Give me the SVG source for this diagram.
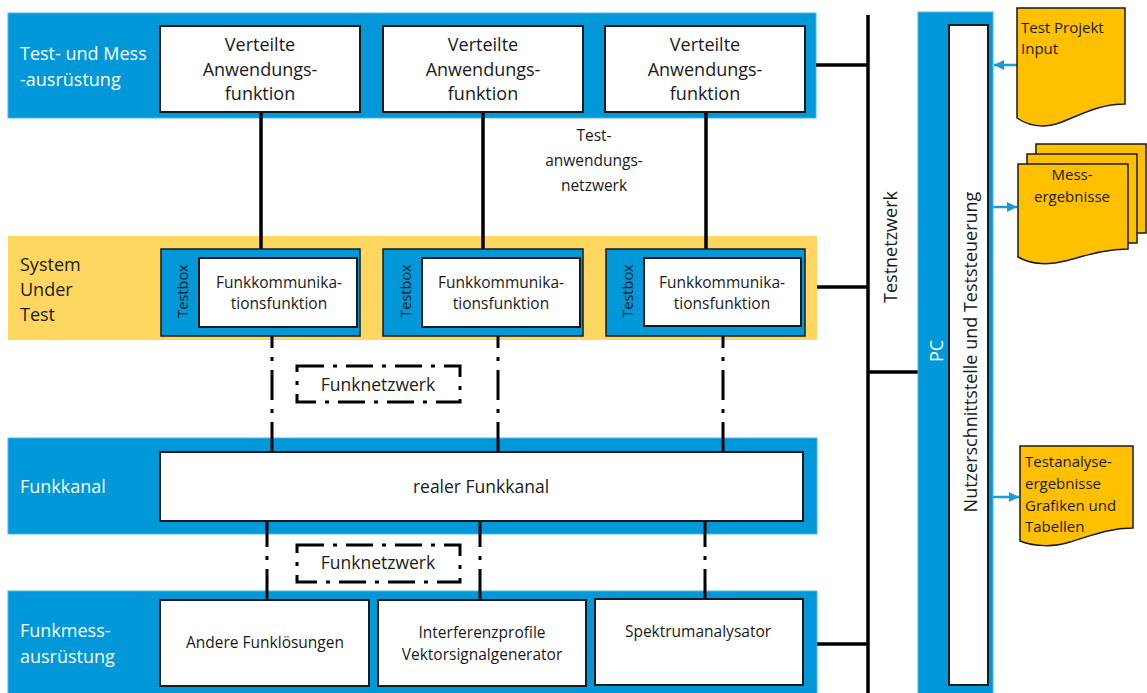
<svg xmlns="http://www.w3.org/2000/svg" width="1147" height="693" viewBox="0 0 1147 693">
  <defs>
    <style>
      text { font-family: "Open Sans", "Liberation Sans", sans-serif; fill: #1a1a1a; }
      .band { fill: #0098D8; stroke: #4DB6E6; stroke-width: 1; }
      .sut { fill: #FFD760; }
      .box { fill: #ffffff; stroke: #1a1a1a; stroke-width: 2; }
      .tbox { fill: #0098D8; stroke: #1a1a1a; stroke-width: 1.5; }
      .doc { fill: #FFC000; stroke: #1a1a1a; stroke-width: 1.5; }
      .lbl { fill: #ffffff; font-size: 18px; }
      .dark { font-size: 18px; }
      .t18 { font-size: 18px; text-anchor: middle; }
      .t16 { font-size: 15.5px; text-anchor: middle; }
      .t15 { font-size: 15px; }
      .solid { stroke: #000; stroke-width: 3.5; fill: none; }
      .dashdot { stroke: #000; stroke-width: 3; fill: none; stroke-dasharray: 30 9 4 9; }
      .frame { stroke: #000; stroke-width: 3; fill: none; stroke-dasharray: 27 9 4 9; }
      .arrow { stroke: #1B9AD8; stroke-width: 2.5; fill: none; marker-end: url(#ah); }
    </style>
    <marker id="ah" markerUnits="userSpaceOnUse" markerWidth="12" markerHeight="12" refX="10" refY="6" orient="auto">
      <path d="M0,1 L10,6 L0,11 Z" fill="#1B9AD8"/>
    </marker>
  </defs>

  <!-- layer bands -->
  <rect class="band" x="8" y="13" width="808" height="105"/>
  <rect class="sut" x="8" y="236" width="809" height="104"/>
  <rect class="band" x="8" y="438" width="809" height="96"/>
  <rect class="band" x="8" y="591" width="809" height="103"/>

  <!-- layer labels -->
  <g id="label-test-mess">
    <text class="lbl" x="20" y="60">Test- und Mess</text>
    <text class="lbl" x="20" y="86">-ausrüstung</text>
  </g>
  <g id="label-sut">
    <text class="dark" x="20" y="271">System</text>
    <text class="dark" x="20" y="296">Under</text>
    <text class="dark" x="20" y="321">Test</text>
  </g>
  <g id="label-funkkanal">
    <text class="lbl" x="20" y="493">Funkkanal</text>
  </g>
  <g id="label-funkmess">
    <text class="lbl" x="20" y="637">Funkmess-</text>
    <text class="lbl" x="20" y="663">ausrüstung</text>
  </g>

  <!-- connectors -->
  <g id="connectors">
    <!-- application network -->
    <path class="solid" d="M261,112 V249 M483,112 V249 M706,112 V249"/>
    <!-- radio links -->
    <path class="dashdot" stroke-dashoffset="9" d="M272,327 V452 M498,327 V452 M723,327 V452"/>
    <path class="dashdot" stroke-dashoffset="4" d="M267,521 V600 M480,521 V600 M705,521 V600"/>
    <!-- test network bus -->
    <path class="solid" d="M868,15 V693 M816,65 H868 M817,287 H868 M868,372 H918 M817,644 H868"/>
    <!-- PC data flow -->
    <path class="arrow" d="M1017,65 H994"/>
    <path class="arrow" d="M993,207 H1017"/>
    <path class="arrow" d="M993,497 H1019"/>
  </g>

  <!-- distributed application functions -->
  <g id="app-1">
    <rect class="box" x="160" y="26" width="200" height="86"/>
    <text class="t18" x="260" y="51">Verteilte</text>
    <text class="t18" x="260" y="76">Anwendungs-</text>
    <text class="t18" x="260" y="100">funktion</text>
  </g>
  <g id="app-2">
    <rect class="box" x="383" y="26" width="200" height="86"/>
    <text class="t18" x="483" y="51">Verteilte</text>
    <text class="t18" x="483" y="76">Anwendungs-</text>
    <text class="t18" x="483" y="100">funktion</text>
  </g>
  <g id="app-3">
    <rect class="box" x="605" y="26" width="200" height="86"/>
    <text class="t18" x="705" y="51">Verteilte</text>
    <text class="t18" x="705" y="76">Anwendungs-</text>
    <text class="t18" x="705" y="100">funktion</text>
  </g>

  <g id="app-network-label">
    <text class="t16" x="594" y="141" font-size="16.5">Test-</text>
    <text class="t16" x="594" y="166" font-size="16.5">anwendungs-</text>
    <text class="t16" x="594" y="191" font-size="16.5">netzwerk</text>
  </g>

  <!-- test boxes -->
  <g id="testbox-1">
    <rect class="tbox" x="161" y="249" width="199" height="87"/>
    <text transform="translate(188,291) rotate(-90)" font-size="14.5" text-anchor="middle">Testbox</text>
    <rect class="box" x="199" y="258" width="158" height="69" stroke-width="1.5"/>
    <text class="t16" x="279" y="288">Funkkommunika-</text>
    <text class="t16" x="279" y="309">tionsfunktion</text>
  </g>
  <g id="testbox-2">
    <rect class="tbox" x="383" y="249" width="200" height="87"/>
    <text transform="translate(411,291) rotate(-90)" font-size="14.5" text-anchor="middle">Testbox</text>
    <rect class="box" x="422" y="258" width="158" height="69" stroke-width="1.5"/>
    <text class="t16" x="501" y="288">Funkkommunika-</text>
    <text class="t16" x="501" y="309">tionsfunktion</text>
  </g>
  <g id="testbox-3">
    <rect class="tbox" x="606" y="249" width="199" height="87"/>
    <text transform="translate(633,291) rotate(-90)" font-size="14.5" text-anchor="middle">Testbox</text>
    <rect class="box" x="644" y="258" width="157" height="68" stroke-width="1.5"/>
    <text class="t16" x="722" y="288">Funkkommunika-</text>
    <text class="t16" x="722" y="309">tionsfunktion</text>
  </g>

  <!-- radio network frames -->
  <g id="funknetz-1">
    <rect class="frame" x="297" y="366" width="163" height="36"/>
    <text x="378" y="391" font-size="17.5" text-anchor="middle">Funknetzwerk</text>
  </g>
  <g id="funknetz-2">
    <rect class="frame" x="297" y="545" width="163" height="37"/>
    <text x="378" y="569" font-size="17.5" text-anchor="middle">Funknetzwerk</text>
  </g>

  <!-- radio channel -->
  <g id="funkkanal">
    <rect class="box" x="160" y="452" width="643" height="69"/>
    <text x="481" y="493" font-size="17.5" text-anchor="middle">realer Funkkanal</text>
  </g>

  <!-- radio measurement equipment -->
  <g id="andere">
    <rect class="box" x="160" y="600" width="209" height="86"/>
    <text class="t16" x="265" y="648">Andere Funklösungen</text>
  </g>
  <g id="vsg">
    <rect class="box" x="378" y="600" width="208" height="86"/>
    <text class="t16" x="482" y="638">Interferenzprofile</text>
    <text class="t16" x="482" y="660">Vektorsignalgenerator</text>
  </g>
  <g id="spektrum">
    <rect class="box" x="595" y="599" width="208" height="86"/>
    <text class="t16" x="698" y="637">Spektrumanalysator</text>
  </g>

  <!-- test network -->
  <g id="testnetzwerk">
    <text transform="translate(897,247) rotate(-90)" font-size="18" text-anchor="middle">Testnetzwerk</text>
  </g>

  <!-- PC -->
  <g id="pc">
    <rect class="band" x="918" y="12" width="75" height="682"/>
    <text transform="translate(943,351) rotate(-90)" font-size="18" text-anchor="middle" style="fill:#ffffff">PC</text>
    <rect class="box" x="949" y="25" width="39" height="660" stroke-width="1.5"/>
    <text transform="translate(977,352) rotate(-90)" font-size="18" text-anchor="middle">Nutzerschnittstelle und Teststeuerung</text>
  </g>

  <!-- documents -->
  <g id="doc-input">
    <path class="doc" d="M1017,8 H1125 V104 C1100,104 1082,114 1062,122 C1046,128 1030,127 1017,118 Z"/>
    <text class="t15" x="1021" y="33">Test Projekt</text>
    <text class="t15" x="1021" y="54">Input</text>
  </g>
  <g id="doc-mess">
    <rect class="doc" x="1036" y="144" width="110" height="89"/>
    <rect class="doc" x="1027" y="154" width="110" height="89"/>
    <path class="doc" d="M1018,164 H1128 V249 C1103,249 1085,256 1065,261 C1050,265 1032,265 1018,257 Z"/>
    <text class="t15" x="1072" y="180" text-anchor="middle">Mess-</text>
    <text class="t15" x="1072" y="202" text-anchor="middle">ergebnisse</text>
  </g>
  <g id="doc-analyse">
    <path class="doc" d="M1020,446 H1133 V528 C1108,528 1090,536 1070,542 C1055,547 1035,547 1020,541 Z"/>
    <text class="t15" x="1025" y="467">Testanalyse-</text>
    <text class="t15" x="1025" y="489">ergebnisse</text>
    <text class="t15" x="1025" y="511">Grafiken und</text>
    <text class="t15" x="1025" y="532">Tabellen</text>
  </g>
</svg>
